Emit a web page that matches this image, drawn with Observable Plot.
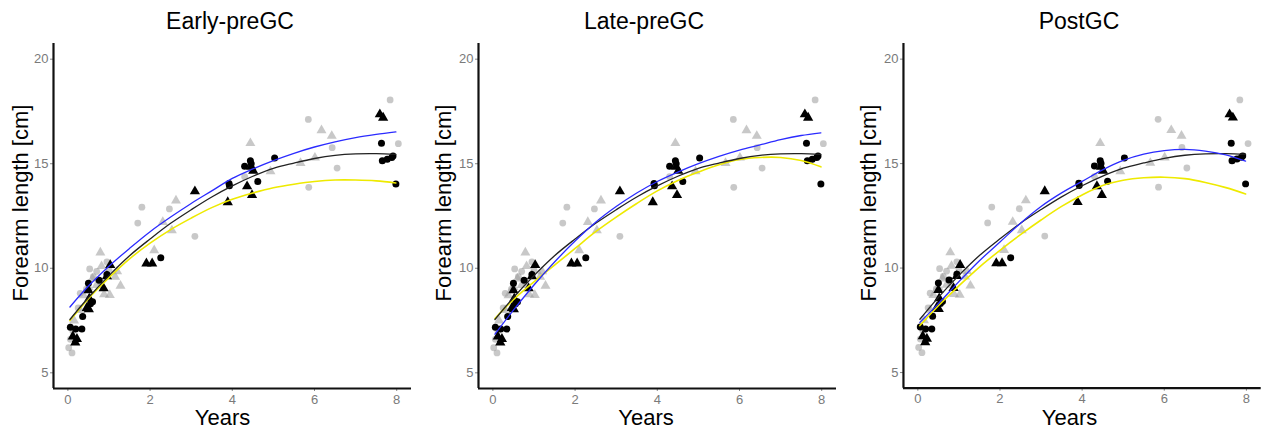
<!DOCTYPE html>
<html><head><meta charset="utf-8">
<script src="https://cdn.jsdelivr.net/npm/d3@7"></script>
<script src="https://cdn.jsdelivr.net/npm/@observablehq/plot@0.6"></script>
<style>
html,body{margin:0;padding:0;background:#fff;}
body{width:1261px;height:430px;overflow:hidden;position:relative;font-family:"Liberation Sans",Arial,sans-serif;}
.svgwrap{position:absolute;top:0;}
.title{position:absolute;top:10px;font-size:23px;line-height:23px;transform:translateX(-50%);white-space:nowrap;color:#000;}
.xlab{position:absolute;top:408px;font-size:22px;line-height:20px;transform:translateX(-50%);white-space:nowrap;color:#000;}
.ylab{position:absolute;font-size:22px;line-height:22px;transform:translate(-50%,-50%) rotate(-90deg);white-space:nowrap;color:#000;}
</style></head>
<body>
<script>
// ---- data ----
const panelTitles = ["Early-preGC", "Late-preGC", "PostGC"];
const xTicks = [0, 2, 4, 6, 8];
const yTicks = [5, 10, 15, 20];

// observations [years, forearm length]
const greyCircles = [[0.02,6.2],[0.1,5.95],[0.06,6.6],[0.12,7.0],[0.25,8.1],[0.3,8.8],[0.45,9.0],[0.53,9.97],[0.62,9.6],[0.7,9.85],[0.8,9.3],[0.95,10.3],[1.0,9.9],[1.70,12.16],[1.80,12.92],[2.47,12.84],[3.09,11.53],[4.30,14.38],[5.85,17.12],[5.86,13.87],[6.43,15.77],[6.55,14.79],[7.84,18.05],[8.04,15.96]];
const greyTriangles = [[0.15,7.5],[0.3,8.0],[0.38,8.7],[0.5,9.1],[0.6,9.5],[0.7,9.2],[0.79,10.75],[0.82,10.1],[0.88,8.75],[1.02,8.72],[1.15,9.59],[1.2,9.85],[1.28,9.16],[2.10,10.86],[2.31,12.21],[2.53,11.81],[2.63,13.24],[4.44,15.98],[4.93,14.63],[5.66,15.03],[6.01,15.29],[6.17,16.6],[6.42,16.33]];
const blackCircles = [[0.06,7.18],[0.19,7.09],[0.34,7.09],[0.36,7.69],[0.50,9.28],[0.55,8.3],[0.60,8.4],[0.76,9.43],[0.95,9.7],[2.26,10.5],[3.92,14.06],[3.93,13.95],[4.30,14.88],[4.44,15.14],[4.46,15.0],[4.62,14.15],[5.03,15.27],[7.63,15.98],[7.65,15.14],[7.77,15.22],[7.88,15.3],[7.91,15.37],[7.98,14.03]];
const blackTriangles = [[0.12,6.74],[0.18,6.45],[0.22,6.62],[0.46,8.1],[0.51,8.04],[0.52,8.55],[0.50,8.95],[0.87,9.04],[0.95,9.62],[1.03,10.15],[1.91,10.23],[2.05,10.23],[3.09,13.68],[3.89,13.16],[4.36,13.92],[4.48,13.5],[4.51,14.66],[4.46,14.85],[7.59,17.36],[7.67,17.2]];

// fitted curves, read at these ages
const fitYears = [0.05,0.5,1,1.5,2,2.5,3,3.5,4,4.5,5,5.5,6,6.5,7,7.5,7.98];
const blackFit    = [7.55,8.6,9.65,10.6,11.4,12.15,12.8,13.41,13.94,14.4,14.78,15.03,15.25,15.4,15.47,15.48,15.45];
const blueEarly   = [8.15,9.15,10.1,10.95,11.75,12.45,13.1,13.7,14.3,14.75,15.15,15.5,15.8,16.05,16.25,16.4,16.52];
const yellowEarly = [7.5,8.55,9.55,10.45,11.2,11.85,12.4,12.9,13.3,13.6,13.85,14.02,14.15,14.22,14.22,14.18,14.08];
const blueLate    = [6.85,8.0,9.2,10.3,11.3,12.2,12.95,13.6,14.15,14.6,15.0,15.35,15.65,15.9,16.15,16.35,16.48];
const yellowLate  = [7.6,8.5,9.35,10.15,10.95,11.75,12.45,13.1,13.7,14.2,14.6,14.95,15.2,15.3,15.3,15.15,14.85];
const bluePost    = [7.4,8.3,9.35,10.35,11.25,12.15,12.95,13.6,14.15,14.7,15.15,15.45,15.62,15.68,15.6,15.42,15.12];
const yellowPost  = [7.25,8.2,9.15,10.05,10.85,11.6,12.3,12.95,13.5,13.95,14.2,14.32,14.35,14.28,14.1,13.85,13.55];

const blueFits = [blueEarly, blueLate, bluePost];
const yellowFits = [yellowEarly, yellowLate, yellowPost];

// ---- layout ----
const svgLefts = [0, 425.3, 850.3];
const svgWidths = [420, 420, 411];
const titleCenters = [230, 644, 1079];
const xlabCenters = [222.5, 646, 1069.5];
const ylabCenters = [20.5, 443.5, 868.5];

function makePanel(i) {
  const w = svgWidths[i];
  const chart = Plot.plot({
    width: w, height: 430,
    marginLeft: 53, marginRight: w - 411, marginTop: 43, marginBottom: 42,
    style: {fontFamily: '"Liberation Sans", Arial, sans-serif', fontSize: "13px", background: "transparent", overflow: "visible", color: "#000"},
    x: {domain: [-0.35, 8.36]},
    y: {domain: [4.25, 20.75]},
    marks: [
      Plot.axisX(xTicks, {tickSize: 3, tickPadding: 3, stroke: "#888", fill: "#7a7a7a", fontSize: 13, label: null}),
      Plot.axisY(yTicks, {tickSize: 3, tickPadding: 2, stroke: "#888", fill: "#7a7a7a", fontSize: 13, label: null}),
      Plot.dot(greyCircles, {x: d => d[0], y: d => d[1], r: 3.4, fill: "#9a9a9a", fillOpacity: 0.55, symbol: "circle"}),
      Plot.dot(greyTriangles, {x: d => d[0], y: d => d[1], r: 3.7, fill: "#9a9a9a", fillOpacity: 0.55, symbol: "triangle"}),
      Plot.dot(blackCircles, {x: d => d[0], y: d => d[1], r: 3.5, fill: "#000", symbol: "circle"}),
      Plot.dot(blackTriangles, {x: d => d[0], y: d => d[1], r: 3.8, fill: "#000", symbol: "triangle"}),
      Plot.line(yellowFits[i], {x: fitYears, y: d => d, stroke: "#eeea00", strokeWidth: 1.6, curve: "catmull-rom"}),
      Plot.line(blackFit, {x: fitYears, y: d => d, stroke: "#222", strokeWidth: 1.3, curve: "catmull-rom"}),
      Plot.line(blueFits[i], {x: fitYears, y: d => d, stroke: "#2b2bff", strokeWidth: 1.3, curve: "catmull-rom"}),
      Plot.ruleX([-0.35], {stroke: "#111", strokeWidth: 2.2}),
      Plot.ruleY([4.25], {stroke: "#111", strokeWidth: 2.2})
    ]
  });
  const wrap = document.createElement("div");
  wrap.className = "svgwrap";
  wrap.style.left = svgLefts[i] + "px";
  wrap.appendChild(chart);
  document.body.appendChild(wrap);

  const t = document.createElement("div");
  t.className = "title"; t.textContent = panelTitles[i];
  t.style.left = titleCenters[i] + "px";
  document.body.appendChild(t);

  const xl = document.createElement("div");
  xl.className = "xlab"; xl.textContent = "Years";
  xl.style.left = xlabCenters[i] + "px";
  document.body.appendChild(xl);

  const yl = document.createElement("div");
  yl.className = "ylab"; yl.textContent = "Forearm length [cm]";
  yl.style.left = ylabCenters[i] + "px"; yl.style.top = "203px";
  document.body.appendChild(yl);
}
[0, 1, 2].forEach(makePanel);
</script>
</body></html>
